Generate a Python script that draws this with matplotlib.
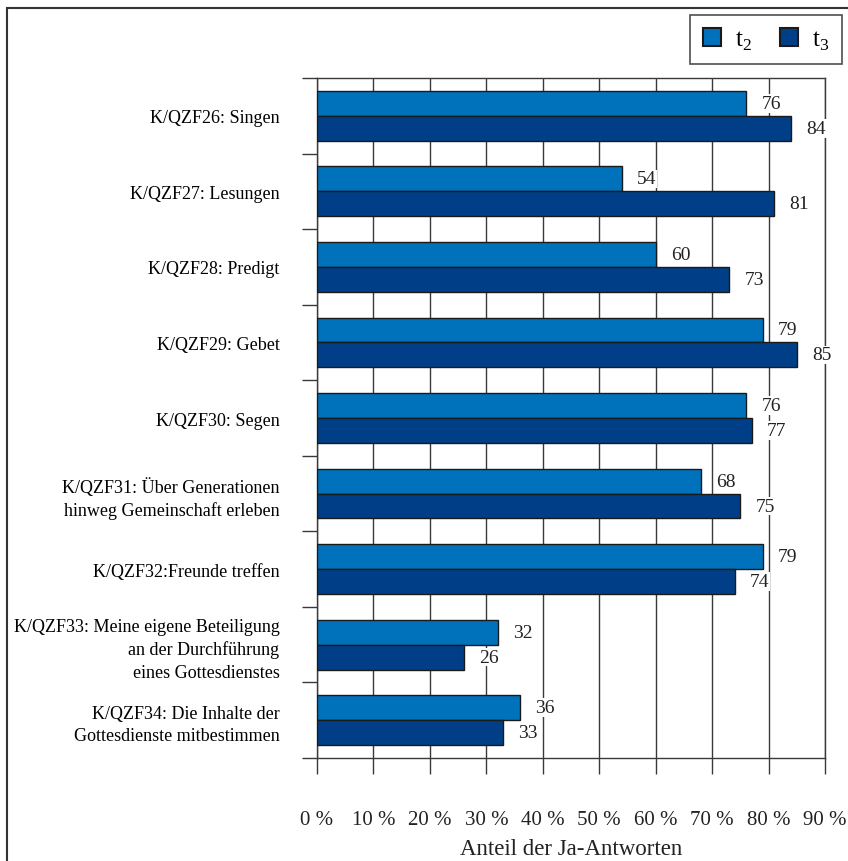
import numpy as np
import matplotlib.pyplot as plt
from matplotlib.patches import Rectangle, Patch

plt.rcParams['font.family'] = ['Liberation Serif', 'DejaVu Serif']
plt.rcParams['mathtext.fontset'] = 'custom'
plt.rcParams['mathtext.rm'] = 'Liberation Serif'

# data
categories = [
    'K/QZF26: Singen',
    'K/QZF27: Lesungen',
    'K/QZF28: Predigt',
    'K/QZF29: Gebet',
    'K/QZF30: Segen',
    'K/QZF31: Über Generationen\nhinweg Gemeinschaft erleben',
    'K/QZF32:Freunde treffen',
    'K/QZF33: Meine eigene Beteiligung\nan der Durchführung\neines Gottesdienstes',
    'K/QZF34: Die Inhalte der\nGottesdienste mitbestimmen',
]
t2 = [76, 54, 60, 79, 76, 68, 79, 32, 36]
t3 = [84, 81, 73, 85, 77, 75, 74, 26, 33]
xticks = [0, 10, 20, 30, 40, 50, 60, 70, 80, 90]
xtick_labels = [f'{v} %' for v in xticks]

c_t2 = '#0072bc'
c_t3 = '#003f87'
line_c = '#3a3a3a'

W, H = 848, 862
fig = plt.figure(figsize=(W / 100, H / 100), dpi=100)
ax = fig.add_axes([317 / W, 1 - 759 / H, (825 - 317) / W, (759 - 79) / H])

y = np.arange(len(categories))
h = 0.33
b2 = ax.barh(y - h / 2, t2, height=h, color=c_t2, edgecolor='#1a1a1a', linewidth=1.0, zorder=3)
b3 = ax.barh(y + h / 2, t3, height=h, color=c_t3, edgecolor='#1a1a1a', linewidth=1.0, zorder=3)

for bars, vals in ((b2, t2), (b3, t3)):
    for bar, v in zip(bars, vals):
        ax.annotate(str(v), (v, bar.get_y() + bar.get_height() / 2),
                    xytext=(11, 0), textcoords='offset points',
                    ha='left', va='center', fontsize=14, color='#222222',
                    bbox=dict(facecolor='white', edgecolor='none', pad=0.5),
                    zorder=5)

ax.set_xlim(0, 90)
ax.set_ylim(len(categories) - 0.5, -0.5)
ax.set_xticks(xticks)
ax.set_xticklabels(xtick_labels, fontsize=15)
ax.set_yticks(y)
ax.set_yticklabels(categories, fontsize=13, linespacing=1.4)
ax.set_yticks(np.arange(-0.5, len(categories)), minor=True)
ax.tick_params(axis='y', which='major', length=0, pad=27)
ax.tick_params(axis='y', which='minor', length=11, width=1.0, color=line_c, direction='out')
ax.tick_params(axis='x', length=11.5, width=1.0, color=line_c, pad=26, labelcolor='#222222')
ax.xaxis.grid(True, color=line_c, linewidth=1.0, zorder=0)
ax.set_axisbelow(True)
for s in ['left', 'bottom', 'top', 'right']:
    ax.spines[s].set_color(line_c)
    ax.spines[s].set_linewidth(1.0)
ax.set_xlabel('Anteil der Ja-Antworten', fontsize=16.5, color='#222222')
ax.xaxis.set_label_coords(0.5, -(850 - 759) / (759 - 79))
ax.xaxis.label.set_va('center')

handles = [Patch(facecolor=c_t2, edgecolor='#1a1a1a', linewidth=1.5),
           Patch(facecolor=c_t3, edgecolor='#1a1a1a', linewidth=1.5)]
leg = fig.legend(handles, [r'$\mathrm{t}_2$', r'$\mathrm{t}_3$'], ncol=2,
                 loc='upper right', bbox_to_anchor=(842 / W, 1 - 16 / H),
                 frameon=True, fancybox=False, fontsize=18,
                 handlelength=0.75, handleheight=0.75, handletextpad=0.55,
                 columnspacing=1.1, borderpad=0.5, borderaxespad=0)
leg.get_frame().set_edgecolor('#222222')
leg.get_frame().set_linewidth(1.2)

# outer frame
fig.patches.append(Rectangle((7 / W, -0.1), 1.2, 1 - 9 / H + 0.1, transform=fig.transFigure,
                             fill=False, edgecolor='#333333', linewidth=1.5))

fig.savefig('out.png', dpi=100)
